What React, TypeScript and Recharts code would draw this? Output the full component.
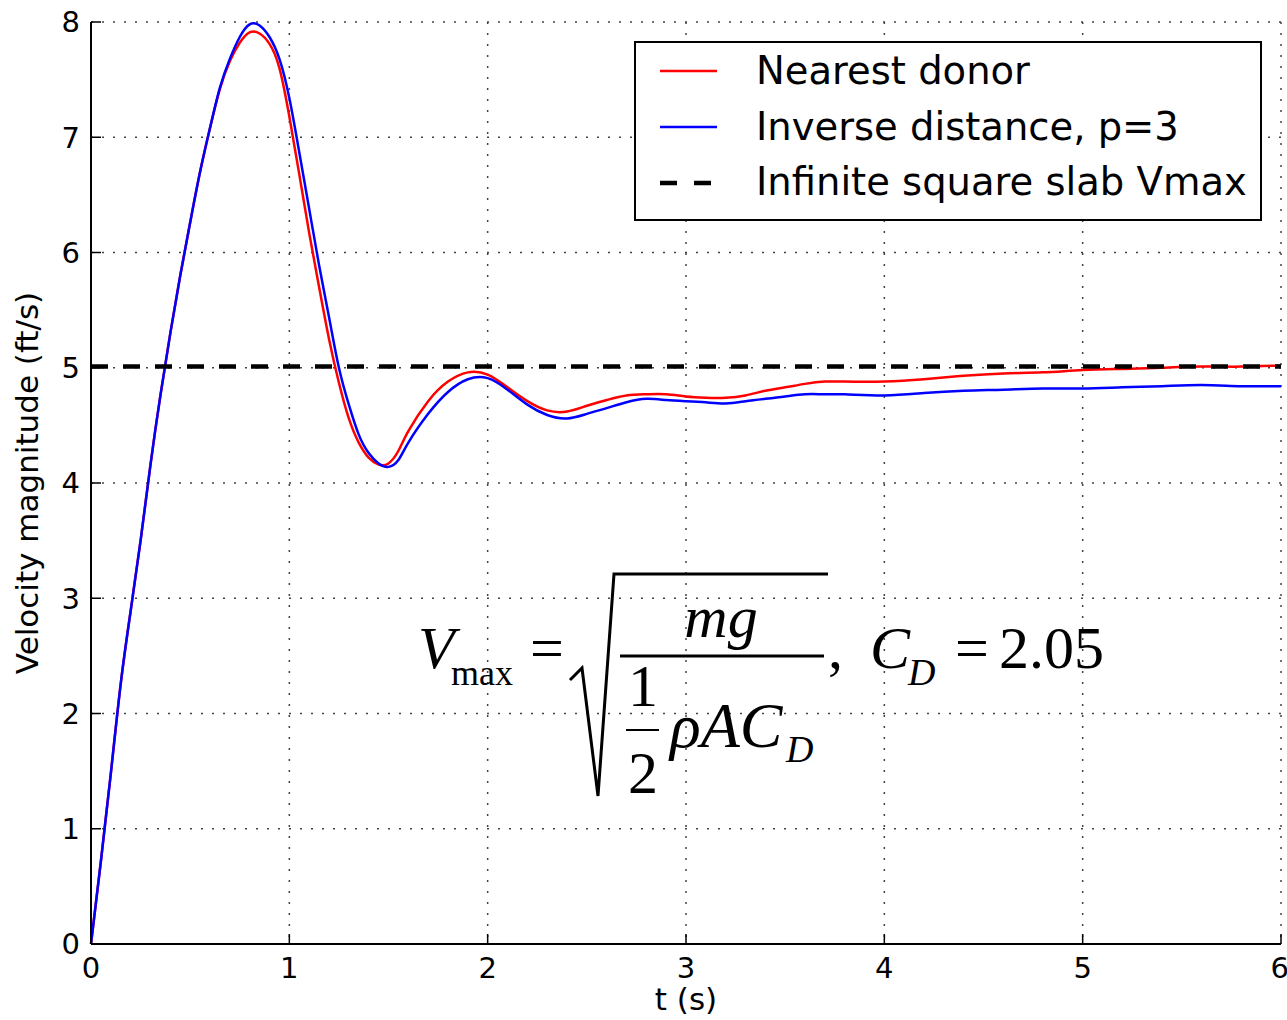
import {
  LineChart,
  Line,
  XAxis,
  YAxis,
  CartesianGrid,
  ReferenceLine,
  Legend,
  Label,
} from "recharts";

// time (s)
const TIME = [
  0, 0.05, 0.1, 0.15, 0.2, 0.25, 0.3, 0.35, 0.4, 0.45, 0.5, 0.55, 0.6, 0.65, 0.7, 0.75, 0.8, 0.85,
  0.9, 0.95, 1.0, 1.05, 1.1, 1.15, 1.2, 1.25, 1.3, 1.35, 1.4, 1.45, 1.5, 1.55, 1.6, 1.7, 1.8, 1.9,
  2.0, 2.1, 2.2, 2.3, 2.4, 2.5, 2.6, 2.7, 2.8, 2.9, 3.0, 3.1, 3.2, 3.3, 3.4, 3.5, 3.6, 3.7, 3.8,
  4.0, 4.2, 4.4, 4.6, 4.8, 5.0, 5.2, 5.4, 5.6, 5.8, 6.0,
];

// Nearest donor
const NEAREST = [
  0, 0.72, 1.48, 2.26, 2.89, 3.5, 4.16, 4.76, 5.3, 5.8, 6.26, 6.7, 7.08, 7.42, 7.66, 7.82, 7.91, 7.9,
  7.81, 7.6, 7.18, 6.68, 6.17, 5.7, 5.25, 4.87, 4.56, 4.35, 4.22, 4.16, 4.17, 4.28, 4.45, 4.71, 4.88, 4.96,
  4.94, 4.83, 4.71, 4.63, 4.62, 4.67, 4.72, 4.76, 4.77, 4.77, 4.75, 4.74, 4.74, 4.76, 4.8, 4.83, 4.86, 4.88, 4.88,
  4.88, 4.9, 4.93, 4.95, 4.96, 4.98, 4.99, 5.0, 5.01, 5.01, 5.02,
];

// Inverse distance, p=3
const INVERSE = [
  0, 0.72, 1.48, 2.26, 2.89, 3.5, 4.16, 4.76, 5.3, 5.8, 6.26, 6.7, 7.08, 7.43, 7.68, 7.87, 7.98, 7.97,
  7.87, 7.68, 7.34, 6.87, 6.38, 5.89, 5.44, 5.0, 4.68, 4.42, 4.26, 4.17, 4.14, 4.2, 4.35, 4.6, 4.79, 4.9,
  4.91, 4.81, 4.68, 4.59, 4.56, 4.6, 4.65, 4.7, 4.73, 4.72, 4.71, 4.7, 4.69, 4.71, 4.73, 4.75, 4.77, 4.77, 4.77,
  4.76, 4.78, 4.8, 4.81, 4.82, 4.82, 4.83, 4.84, 4.85, 4.84, 4.84,
];

const VMAX = 5.01;

const X_TICKS = [0, 1, 2, 3, 4, 5, 6];
const Y_TICKS = [0, 1, 2, 3, 4, 5, 6, 7, 8];

const LEGEND_LABELS = ["Nearest donor", "Inverse distance, p=3", "Infinite square slab Vmax"];

const rows = TIME.map((t, i) => ({ t, nearest: NEAREST[i], inverse: INVERSE[i] }));

const SANS = "'DejaVu Sans', sans-serif";
const SERIF = "'Liberation Serif', 'DejaVu Serif', serif";
const tickStyle = { fontSize: 29, fill: "#000", fontFamily: SANS };

function LegendBox() {
  const samples = [
    { stroke: "#ff0000", width: 2.5, dash: undefined },
    { stroke: "#0000ff", width: 2.5, dash: undefined },
    { stroke: "#000", width: 4.5, dash: "17 17" },
  ];
  return (
    <svg width={628} height={180} style={{ display: "block" }}>
      <rect x={1} y={1} width={626} height={178} fill="#fff" stroke="#000" strokeWidth={2} />
      {LEGEND_LABELS.map((label, i) => (
        <g key={label}>
          <line
            x1={26}
            x2={83}
            y1={30 + i * 56}
            y2={30 + i * 56}
            stroke={samples[i].stroke}
            strokeWidth={samples[i].width}
            strokeDasharray={samples[i].dash}
          />
          <text x={122} y={43 + i * 55.5} fontFamily={SANS} fontSize={38.5} fill="#000">
            {label}
          </text>
        </g>
      ))}
    </svg>
  );
}

function Formula() {
  return (
    <svg
      width={1287}
      height={1020}
      fontFamily={SERIF}
      fill="#000"
      style={{ position: "absolute", left: 0, top: 0, pointerEvents: "none" }}
    >
      <text x={418} y={668} fontSize={60} fontStyle="italic">V</text>
      <text x={451} y={685} fontSize={36}>max</text>
      <text x={530} y={668} fontSize={60}>=</text>
      <path
        d="M 570 680 L 582 668 L 598 796 L 614 574 L 828 574"
        fill="none"
        stroke="#000"
        strokeWidth={3}
      />
      <text x={721} y={637} fontSize={60} fontStyle="italic" textAnchor="middle">mg</text>
      <line x1={620} x2={824} y1={656} y2={656} stroke="#000" strokeWidth={3} />
      <text x={643} y={706} fontSize={60} textAnchor="middle">1</text>
      <line x1={626} x2={659} y1={730} y2={730} stroke="#000" strokeWidth={2} />
      <text x={643} y={793} fontSize={60} textAnchor="middle">2</text>
      <text x={670} y={747} fontSize={64} fontStyle="italic">ρAC</text>
      <text x={786} y={762} fontSize={38} fontStyle="italic">D</text>
      <text x={828} y={668} fontSize={60}>,</text>
      <text x={870} y={668} fontSize={60} fontStyle="italic">C</text>
      <text x={908} y={685} fontSize={38} fontStyle="italic">D</text>
      <text x={955} y={668} fontSize={60}>=</text>
      <text x={999} y={668} fontSize={60}>2.05</text>
    </svg>
  );
}

export default function App() {
  return (
    <div style={{ position: "absolute", left: 0, top: 0, width: 1287, height: 1020, background: "#fff" }}>
      <LineChart width={1287} height={1020} data={rows} margin={{ top: 22, right: 6, left: 0, bottom: 0 }}>
        <CartesianGrid stroke="#444" strokeWidth={1.5} strokeDasharray="2 9" />
        <XAxis
          dataKey="t"
          type="number"
          domain={[0, 6]}
          ticks={X_TICKS}
          height={76}
          tick={tickStyle}
          tickSize={-10}
          tickMargin={23}
          tickLine={{ stroke: "#000", strokeWidth: 1.5 }}
          axisLine={{ stroke: "#000", strokeWidth: 2 }}
        >
          <Label
            content={(props: any) => {
              const vb = props.viewBox;
              return (
                <text x={vb.x + vb.width / 2} y={vb.y + 66} textAnchor="middle" fontFamily={SANS} fontSize={31} fill="#000">
                  t (s)
                </text>
              );
            }}
          />
        </XAxis>
        <XAxis
          xAxisId="top"
          orientation="top"
          type="number"
          domain={[0, 6]}
          ticks={X_TICKS}
          height={0}
          tick={false}
          tickSize={-10}
          tickLine={{ stroke: "#000", strokeWidth: 1.5 }}
          axisLine={{ stroke: "#000", strokeWidth: 2 }}
        />
        <YAxis
          type="number"
          domain={[0, 8]}
          ticks={Y_TICKS}
          width={91}
          tick={tickStyle}
          tickSize={-10}
          tickMargin={21}
          tickLine={{ stroke: "#000", strokeWidth: 1.5 }}
          axisLine={{ stroke: "#000", strokeWidth: 2 }}
        >
          <Label
            content={(props: any) => {
              const vb = props.viewBox;
              const cx = vb.x + 38;
              const cy = vb.y + vb.height / 2;
              return (
                <text
                  x={cx}
                  y={cy}
                  transform={`rotate(-90 ${cx} ${cy})`}
                  textAnchor="middle"
                  fontFamily={SANS}
                  fontSize={31}
                  fill="#000"
                >
                  Velocity magnitude (ft/s)
                </text>
              );
            }}
          />
        </YAxis>
        <YAxis
          yAxisId="right"
          orientation="right"
          type="number"
          domain={[0, 8]}
          ticks={Y_TICKS}
          width={0}
          tick={false}
          tickSize={-10}
          tickLine={{ stroke: "#000", strokeWidth: 1.5 }}
          axisLine={{ stroke: "#000", strokeWidth: 2 }}
        />
        <Line
          type="natural"
          dataKey="nearest"
          stroke="#ff0000"
          strokeWidth={2.5}
          dot={false}
          isAnimationActive={false}
        />
        <Line
          type="natural"
          dataKey="inverse"
          stroke="#0000ff"
          strokeWidth={2.5}
          dot={false}
          isAnimationActive={false}
        />
        <ReferenceLine y={VMAX} stroke="#000" strokeWidth={4.5} strokeDasharray="17 15" />
        <Legend
          layout="horizontal"
          verticalAlign="middle"
          align="center"
          content={() => <LegendBox />}
          wrapperStyle={{ left: 634, top: 41, width: 628, height: 180 }}
        />
      </LineChart>
      <Formula />
    </div>
  );
}
